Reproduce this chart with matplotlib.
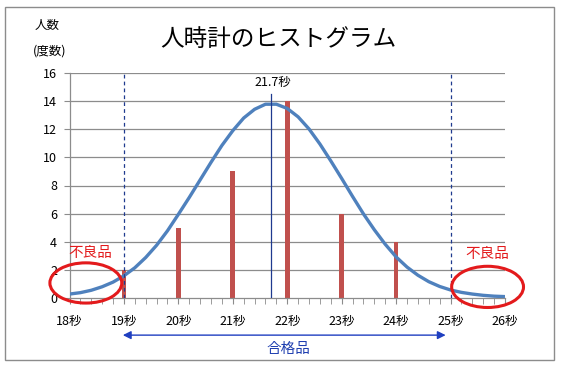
import matplotlib
matplotlib.use("Agg")
import matplotlib.pyplot as plt
from matplotlib.patches import Ellipse, Rectangle

plt.rcParams['font.family'] = ['Noto Sans CJK JP', 'DejaVu Sans']

# ------------------------------------------------------------
# Data
# ------------------------------------------------------------
bar_x = [19, 20, 21, 22, 23, 24]
bar_count = [2, 5, 9, 14, 6, 4]

curve_x = [18.0, 18.2, 18.4, 18.6, 18.8, 19.0, 19.2, 19.4, 19.6, 19.8,
           20.0, 20.2, 20.4, 20.6, 20.8, 21.0, 21.2, 21.4, 21.6, 21.8,
           22.0, 22.2, 22.4, 22.6, 22.8, 23.0, 23.2, 23.4, 23.6, 23.8,
           24.0, 24.2, 24.4, 24.6, 24.8, 25.0, 25.2, 25.4, 25.6, 25.8, 26.0]
curve_y = [0.28, 0.38, 0.55, 0.80, 1.13, 1.58, 2.15, 2.88, 3.75, 4.78,
           5.95, 7.15, 8.40, 9.65, 10.85, 11.90, 12.80, 13.42, 13.78, 13.78,
           13.48, 12.88, 12.02, 10.95, 9.75, 8.50, 7.22, 5.98, 4.85, 3.82,
           2.92, 2.20, 1.62, 1.16, 0.82, 0.57, 0.40, 0.28, 0.19, 0.13, 0.10]

mean_val = 21.7
lower_lim = 19
upper_lim = 25

xtick_vals = [18, 19, 20, 21, 22, 23, 24, 25, 26]
xtick_labels = [f"{v}秒" for v in xtick_vals]
ytick_vals = list(range(0, 17, 2))

red = '#E31A1C'
blue_txt = '#1F3FB0'
navy = '#1F3A8F'

# ------------------------------------------------------------
# Figure
# ------------------------------------------------------------
fig = plt.figure(figsize=(5.61, 3.67), dpi=100)
fig.add_artist(Rectangle((5 / 561, 1 - 360 / 367), 549 / 561, 353 / 367,
                         transform=fig.transFigure, fill=False,
                         edgecolor='#8C8C8C', linewidth=1.0))

ax = fig.add_axes([69.5 / 561, 1 - 298 / 367, 435.5 / 561, 225 / 367])
ax.set_xlim(18, 26)
ax.set_ylim(0, 16)

for v in ytick_vals[1:]:
    ax.axhline(v, color='#8C8C8C', linewidth=0.9, zorder=1)

ax.bar(bar_x, bar_count, width=0.085, color='#C0504D', zorder=2)
ax.plot(curve_x, curve_y, color='#4F81BD', linewidth=2.4, zorder=3,
        solid_capstyle='butt')

for v in (lower_lim, upper_lim):
    ax.plot([v, v], [0, 16], color=navy, linestyle=(0, (3, 2.5)),
            linewidth=0.9, zorder=4)
ax.plot([mean_val, mean_val], [0, 14.5], color=navy, linewidth=0.9, zorder=4)
ax.text(mean_val + 0.03, 15.35, f"{mean_val}秒", ha='center', va='center',
        fontsize=9)

for s in ('top', 'right'):
    ax.spines[s].set_visible(False)
for s in ('left', 'bottom'):
    ax.spines[s].set_color('#8C8C8C')
    ax.spines[s].set_linewidth(0.9)

ax.set_yticks(ytick_vals)
ax.set_yticklabels([str(v) for v in ytick_vals], fontsize=9)
ax.tick_params(axis='y', length=4, color='#8C8C8C', pad=5)

ax.set_xticks(xtick_vals)
ax.set_xticklabels(xtick_labels, fontsize=9)
ax.set_xticks([18 + 0.2 * i for i in range(41)], minor=True)
ax.tick_params(axis='x', which='both', length=4, color='#8C8C8C', pad=8.5)

# defect ellipses and labels
ax.add_patch(Ellipse((18.30, 1.07), 1.32, 2.86, fill=False, edgecolor=red,
                     linewidth=2.2, clip_on=False, zorder=5))
ax.add_patch(Ellipse((25.68, 0.79), 1.32, 2.93, fill=False, edgecolor=red,
                     linewidth=2.2, clip_on=False, zorder=5))
ax.text(18.38, 3.2, "不良品", color=red, fontsize=10.5, ha='center',
        va='center', clip_on=False)
ax.text(25.68, 3.15, "不良品", color=red, fontsize=10.5, ha='center',
        va='center', clip_on=False)

# pass range arrow
ax.annotate("", xy=(lower_lim - 0.02, -2.64), xytext=(upper_lim - 0.09, -2.64),
            arrowprops=dict(arrowstyle='<|-|>', color='#1F3FC0', lw=1.0,
                            mutation_scale=12, shrinkA=0, shrinkB=0),
            annotation_clip=False)
ax.text(22.03, -3.65, "合格品", color=blue_txt, fontsize=10.5, ha='center',
        va='center', clip_on=False)

fig.text(278 / 561, 1 - 39 / 367, "人時計のヒストグラム", fontsize=17,
         ha='center', va='center')
fig.text(47.5 / 561, 1 - 25 / 367, "人数", fontsize=9, ha='center',
         va='center')
fig.text(50 / 561, 1 - 51 / 367, "(度数)", fontsize=9, ha='center',
         va='center')

fig.savefig("out.png", dpi=100)
